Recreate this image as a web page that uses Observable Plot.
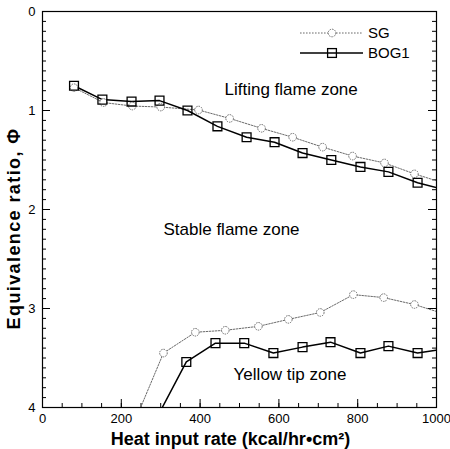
<!DOCTYPE html>
<html><head><meta charset="utf-8">
<script src="https://cdn.jsdelivr.net/npm/d3@7"></script>
<script src="https://cdn.jsdelivr.net/npm/@observablehq/plot@0.6"></script>
<style>
body{margin:0;background:#fff;}
#wrap{position:relative;width:450px;height:449px;}
#wrap svg{display:block;}
#legend{position:absolute;left:0;top:0;pointer-events:none;}
</style></head><body><div id="wrap"></div>
<script>
// ---- data ----
const sgUpperX  = [80, 155, 228, 300, 396, 475, 556, 635, 711, 787, 868, 944, 1000];
const sgUpperY  = [0.77, 0.92, 0.955, 0.965, 0.995, 1.08, 1.18, 1.27, 1.37, 1.46, 1.53, 1.64, 1.71];
const bogUpperX = [80, 152, 226, 297, 368, 444, 518, 589, 660, 733, 807, 878, 952, 1000];
const bogUpperY = [0.75, 0.89, 0.91, 0.90, 1.00, 1.16, 1.27, 1.32, 1.43, 1.50, 1.57, 1.62, 1.73, 1.78];
const sgLowerX  = [249, 307, 388, 464, 548, 624, 705, 789, 866, 944, 1000];
const sgLowerY  = [4.0, 3.45, 3.24, 3.22, 3.18, 3.11, 3.04, 2.86, 2.89, 2.96, 3.03];
const bogLowerX = [304, 365, 439, 512, 586, 660, 731, 807, 878, 952, 1000];
const bogLowerY = [4.0, 3.54, 3.35, 3.35, 3.45, 3.39, 3.34, 3.45, 3.38, 3.45, 3.42];
const seriesNames = ["SG", "BOG1"];
const xTickLabels = [0, 200, 400, 600, 800, 1000];
const yTickLabels = [0, 1, 2, 3, 4];
const xMinorTicks = d3.range(50, 1000, 50);
const yMinorTicks = d3.range(1, 40).map(i => i / 10);
const zoneLabels = [
  {x: 462, y: 0.84, text: "Lifting flame zone"},
  {x: 307, y: 2.26, text: "Stable flame zone"},
  {x: 485, y: 3.72, text: "Yellow tip zone"}
];
const xTitle = "Heat input rate (kcal/hr\u2022cm\u00B2)";
const yTitle = "Equivalence ratio, \u03A6";

// ---- build ----
const rows = (xs, ys) => xs.map((x, i) => ({x, y: ys[i]}));
const sgU = rows(sgUpperX, sgUpperY), sgL = rows(sgLowerX, sgLowerY);
const bgU = rows(bogUpperX, bogUpperY), bgL = rows(bogLowerX, bogLowerY);
const inside = d => d.x < 1000 && d.y < 4;

const W = 450, H = 449, mL = 42, mR = 14, mT = 11, mB = 42;
const iw = W - mL - mR, ih = H - mT - mB;
const FONT = "Arial, 'Liberation Sans', sans-serif";
const grey = "#6a6a6a";
const fmt = d => String(d);

const sgLine = {x: "x", y: "y", stroke: grey, strokeWidth: 1, strokeDasharray: "1.6,1.4"};
const sgDot = {x: "x", y: "y", r: 3.8, stroke: grey, strokeWidth: 1, strokeDasharray: "1.5,1", fill: "white"};
const bgLine = {x: "x", y: "y", stroke: "black", strokeWidth: 1.5};
const bgDot = {x: "x", y: "y", symbol: "square", r: 5, stroke: "black", strokeWidth: 1.3, fill: "none"};

const plot = Plot.plot({
  width: W, height: H, marginLeft: mL, marginRight: mR, marginTop: mT, marginBottom: mB,
  style: {fontFamily: FONT, fontSize: "13px", background: "white", color: "black"},
  x: {domain: [0, 1000]},
  y: {domain: [0, 4], reverse: true},
  marks: [
    // ticks (inward)
    Plot.tickY(yMinorTicks, {y: d => d, insetRight: iw - 4, stroke: "black"}),
    Plot.tickY(yTickLabels, {y: d => d, insetRight: iw - 8, stroke: "black"}),
    Plot.tickY(yMinorTicks, {y: d => d, insetLeft: iw - 4, stroke: "black"}),
    Plot.tickY(yTickLabels, {y: d => d, insetLeft: iw - 8, stroke: "black"}),
    Plot.tickX(xMinorTicks, {x: d => d, insetTop: ih - 4, stroke: "black"}),
    Plot.tickX(xTickLabels, {x: d => d, insetTop: ih - 8, stroke: "black"}),
    Plot.axisX(xTickLabels, {anchor: "bottom", tickSize: 0, tickPadding: 6, label: null, fontSize: 13, tickFormat: fmt}),
    Plot.axisY(yTickLabels, {anchor: "left", tickSize: 0, tickPadding: 7, label: null, fontSize: 13, tickFormat: fmt}),
    // series
    Plot.line(sgU, {...sgLine, clip: true}),
    Plot.line(sgL, {...sgLine, clip: true}),
    Plot.line(bgU, {...bgLine, clip: true}),
    Plot.line(bgL, {...bgLine, clip: true}),
    Plot.dot(sgU.filter(inside), sgDot),
    Plot.dot(sgL.filter(inside), sgDot),
    Plot.dot(bgU.filter(inside), bgDot),
    Plot.dot(bgL.filter(inside), bgDot),
    // zone annotations
    Plot.text(zoneLabels, {x: "x", y: "y", text: "text", textAnchor: "start", lineAnchor: "bottom", fontSize: 17, fill: "black"}),
    // axis titles
    Plot.text([xTitle], {frameAnchor: "bottom", dy: 37, dx: -9, textAnchor: "middle", lineAnchor: "bottom", fontSize: 18, fontWeight: "bold", fill: "black"}),
    Plot.text([yTitle], {frameAnchor: "left", rotate: -90, dx: -28, dy: 19, textAnchor: "middle", lineAnchor: "middle", fontSize: 18, fontWeight: "bold", fill: "black", className: "ytitle"}),
    Plot.frame({stroke: "black", strokeWidth: 1.2})
  ]
});
const wrap = document.getElementById("wrap");
wrap.appendChild(plot);
d3.select(plot).selectAll("text").filter(function() { return this.textContent === yTitle; })
  .style("letter-spacing", "1.4px");

// ---- legend (inside the plot, top right) ----
const lg = d3.select(wrap).append("svg").attr("id", "legend").attr("width", W).attr("height", H)
  .style("font-family", FONT);
const items = [
  {name: seriesNames[0], y: 33, line: sgLine, sym: "circle"},
  {name: seriesNames[1], y: 53, line: bgLine, sym: "square"}
];
for (const it of items) {
  lg.append("line").attr("x1", 300).attr("x2", 363).attr("y1", it.y).attr("y2", it.y)
    .attr("stroke", it.line.stroke).attr("stroke-width", it.line.strokeWidth)
    .attr("stroke-dasharray", it.line.strokeDasharray || null);
  if (it.sym === "circle") {
    lg.append("circle").attr("cx", 332).attr("cy", it.y).attr("r", 3.8)
      .attr("stroke", grey).attr("fill", "white").attr("stroke-dasharray", "1.5,1");
  } else {
    lg.append("rect").attr("x", 332 - 4.4).attr("y", it.y - 4.4).attr("width", 8.8).attr("height", 8.8)
      .attr("stroke", "black").attr("stroke-width", 1.3).attr("fill", "none");
  }
  lg.append("text").attr("x", 368).attr("y", it.y + 5).attr("font-size", 15).text(it.name);
}
</script></body></html>
